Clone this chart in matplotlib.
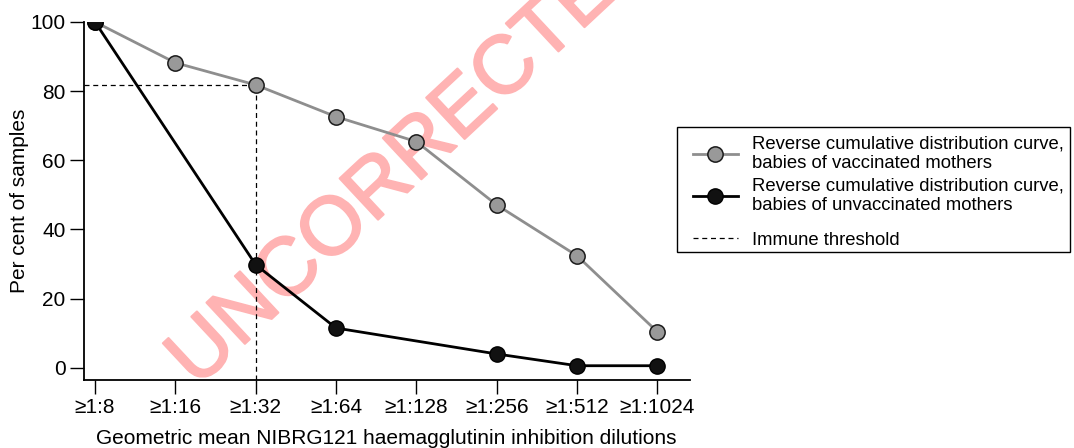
import matplotlib.pyplot as plt
import matplotlib.patheffects as pe
from matplotlib.patches import Rectangle
import numpy as np

plt.rcParams['font.family'] = ['Liberation Sans', 'DejaVu Sans']

dilutions = ['1:8', '1:16', '1:32', '1:64', '1:128', '1:256', '1:512', '1:1024']
vaccinated = [100, 88.2, 81.8, 72.6, 65.4, 47.1, 32.4, 10.4]
# no observation at 1:16 and 1:128 for the unvaccinated group
unvaccinated = [100, None, 29.8, 11.5, None, 4.0, 0.6, 0.6]
threshold_value = 81.8
threshold_index = 2

label_vacc = 'Reverse cumulative distribution curve,\nbabies of vaccinated mothers'
label_unvacc = 'Reverse cumulative distribution curve,\nbabies of unvaccinated mothers'
label_thresh = 'Immune threshold'

W, H = 1074, 448
fig = plt.figure(figsize=(W / 100, H / 100), dpi=100)
ax = fig.add_axes([0.078, 0.152, 0.564, 0.799])
# keep the axes above the watermark, with a see-through background
ax.set_zorder(2)
ax.patch.set_alpha(0)

x = np.arange(len(dilutions))
ymin = -3.5
xmin = -0.14

# threshold guide lines
dash = (0, (4, 3))
ax.plot([xmin, threshold_index], [threshold_value, threshold_value],
        color='black', linestyle=dash, linewidth=0.9, zorder=2)
ax.plot([threshold_index, threshold_index], [ymin, threshold_value],
        color='black', linestyle=dash, linewidth=0.9, zorder=2)
thresh_handle, = ax.plot([], [], color='black', linestyle=dash, linewidth=0.9)

vacc_handle, = ax.plot(x, vaccinated, color='#8e8e8e', linewidth=2, marker='o',
                       markersize=11, markerfacecolor='#999999',
                       markeredgecolor='#1a1a1a', markeredgewidth=1.1, zorder=3)

ux = [i for i, v in enumerate(unvaccinated) if v is not None]
uy = [v for v in unvaccinated if v is not None]
unvacc_handle, = ax.plot(ux, uy, color='black', linewidth=2, marker='o',
                         markersize=11, markerfacecolor='#111111',
                         markeredgecolor='black', zorder=4)

ax.set_xlim(xmin, 7.4)
ax.set_ylim(ymin, 100)
ax.set_xticks(x)
ax.set_xticklabels(['\u2265' + d for d in dilutions])
ax.set_yticks([0, 20, 40, 60, 80, 100])
ax.spines['top'].set_visible(False)
ax.spines['right'].set_visible(False)
for s in ('left', 'bottom'):
    ax.spines[s].set_linewidth(1.3)
ax.tick_params(length=10, width=1, labelsize=15, pad=3)
ax.set_xlabel('Geometric mean NIBRG121 haemagglutinin inhibition dilutions',
              fontsize=15, labelpad=8.5)
ax.set_ylabel('Per cent of samples', fontsize=15, labelpad=1)

legend_kw = dict(borderaxespad=0, fontsize=13.3, frameon=False,
                 handlelength=2.4, borderpad=0.45, handletextpad=0.8)
leg1 = fig.legend([vacc_handle, unvacc_handle], [label_vacc, label_unvacc],
                  loc='upper left', bbox_to_anchor=(685 / W, 1 - 127 / H),
                  labelspacing=0.3, **legend_kw)
leg2 = fig.legend([thresh_handle], [label_thresh], loc='center left',
                  bbox_to_anchor=(685 / W, 1 - 240 / H), **legend_kw)
leg1.set_zorder(3)
leg2.set_zorder(3)

# one frame round both legend blocks
fig.add_artist(Rectangle((677 / W, 1 - 252 / H), (1070 - 677) / W, 125 / H,
                         transform=fig.transFigure, fill=False,
                         edgecolor='black', linewidth=1, zorder=3))

# watermark
fig.text(0.387, 0.652, 'UNCORRECTED', fontsize=59, color='#ffb3b3',
         rotation=43, rotation_mode='anchor', ha='center', va='center',
         zorder=1,
         path_effects=[pe.withStroke(linewidth=1.5, foreground='#ffb3b3')])

fig.savefig('out.png', dpi=100)
